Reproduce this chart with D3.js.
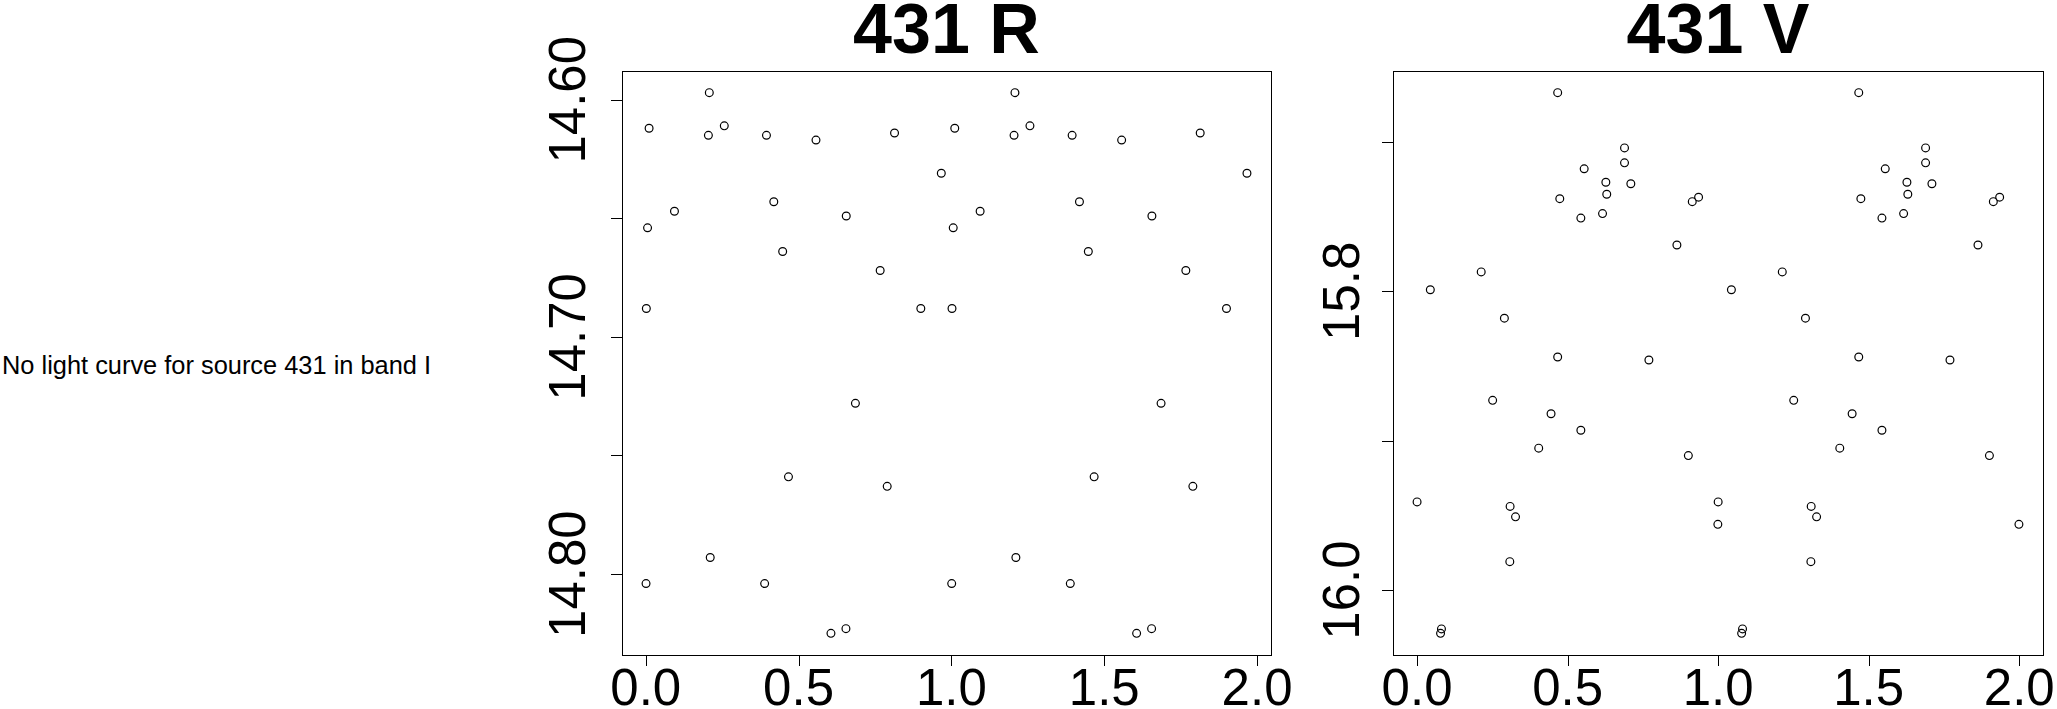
<!DOCTYPE html>
<html><head><meta charset="utf-8">
<script src="https://cdn.jsdelivr.net/npm/d3@7"></script>
<style>body{margin:0;background:#fff} svg{display:block}</style>
</head><body>
<script>
// ---- data ----
const message = "No light curve for source 431 in band I";
const titles = ["431 R", "431 V"];

// phase-folded light curve, R band (each point is plotted at phase and phase+1)
const phaseR = [0.208,0.011,0.205,0.257,0.395,0.557,0.814,0.967,0.094,0.419,0.656,0.006,
                0.448,0.767,0.002,0.900,0.686,0.467,0.790,0.211,0.001,0.389,0.606,0.655];
const magR   = [14.597,14.612,14.615,14.611,14.615,14.617,14.614,14.631,14.647,14.643,14.649,14.654,
                14.664,14.672,14.688,14.688,14.728,14.759,14.763,14.793,14.804,14.804,14.825,14.823];

// V band
const phaseV = [0.467,0.689,0.689,0.555,0.627,0.710,0.630,0.474,0.935,0.914,0.616,0.544,0.863,0.213,0.044,
                0.290,0.467,0.770,0.251,0.445,0.544,0.404,0.901,0.000,0.309,0.327,0.999,0.308,0.081,0.078];
const magV   = [15.667,15.704,15.714,15.718,15.727,15.728,15.735,15.738,15.737,15.740,15.748,15.751,15.769,15.787,15.799,
                15.818,15.844,15.846,15.873,15.882,15.893,15.905,15.910,15.941,15.944,15.951,15.956,15.981,16.026,16.029];

const xTicks = [0, 0.5, 1, 1.5, 2];
const xTickLabels = ["0.0", "0.5", "1.0", "1.5", "2.0"];
const yTicksR = [14.60, 14.65, 14.70, 14.75, 14.80];
const yLabelsR = ["14.60", "", "14.70", "", "14.80"];
const yTicksV = [15.7, 15.8, 15.9, 16.0];
const yLabelsV = ["", "15.8", "", "16.0"];

// ---- drawing ----
const W = 2057, H = 709;
const svg = d3.select("body").append("svg").attr("width", W).attr("height", H);
const FONT = "'Liberation Sans', Arial, Helvetica, sans-serif";

svg.append("text").attr("x", 2).attr("y", 374)
  .attr("font-family", FONT).attr("font-size", 25.4).attr("fill", "#000")
  .text(message);

const panels = [
  {title: titles[0], phase: phaseR, mag: magR, yTicks: yTicksR, yLabels: yLabelsR, left: 622, right: 1271, labOff: 37},
  {title: titles[1], phase: phaseV, mag: magV, yTicks: yTicksV, yLabels: yLabelsV, left: 1393, right: 2043, labOff: 34}
];
const boxTop = 71, boxBottom = 655;

function padded(ext) {
  const d = (ext[1] - ext[0]) * 0.04;
  return [ext[0] - d, ext[1] + d];
}

panels.forEach(p => {
  const xs = p.phase.concat(p.phase.map(v => v + 1));
  const ys = p.mag.concat(p.mag);
  const x = d3.scaleLinear().domain(padded(d3.extent(xs))).range([p.left, p.right]);
  const y = d3.scaleLinear().domain(padded(d3.extent(ys))).range([boxTop, boxBottom]);
  const g = svg.append("g");

  // box
  g.append("rect").attr("x", p.left + 0.5).attr("y", boxTop + 0.5)
    .attr("width", p.right - p.left).attr("height", boxBottom - boxTop)
    .attr("fill", "none").attr("stroke", "#000").attr("stroke-width", 1);

  // title
  g.append("text").attr("x", (p.left + p.right) / 2).attr("y", 53)
    .attr("text-anchor", "middle").attr("font-family", FONT)
    .attr("font-weight", "bold").attr("font-size", 70).attr("fill", "#000")
    .text(p.title);

  // x axis
  xTicks.forEach((t, i) => {
    const px = Math.round(x(t)) + 0.5;
    g.append("line").attr("x1", px).attr("x2", px).attr("y1", boxBottom).attr("y2", boxBottom + 11)
      .attr("stroke", "#000").attr("stroke-width", 1);
    g.append("text").attr("x", x(t)).attr("y", 705).attr("text-anchor", "middle")
      .attr("font-family", FONT).attr("font-size", 51).attr("fill", "#000")
      .text(xTickLabels[i]);
  });

  // y axis
  p.yTicks.forEach((t, i) => {
    const py = Math.round(y(t)) + 0.5;
    g.append("line").attr("x1", p.left - 11).attr("x2", p.left).attr("y1", py).attr("y2", py)
      .attr("stroke", "#000").attr("stroke-width", 1);
    if (p.yLabels[i]) {
      g.append("text").attr("transform", `translate(${p.left - p.labOff},${y(t)}) rotate(-90)`)
        .attr("text-anchor", "middle").attr("font-family", FONT).attr("font-size", 51)
        .attr("fill", "#000").text(p.yLabels[i]);
    }
  });

  // points
  g.selectAll("circle").data(xs.map((v, i) => [v, ys[i]])).join("circle")
    .attr("cx", d => x(d[0])).attr("cy", d => y(d[1])).attr("r", 3.9)
    .attr("fill", "none").attr("stroke", "#000").attr("stroke-width", 1.2);
});
</script>
</body></html>
